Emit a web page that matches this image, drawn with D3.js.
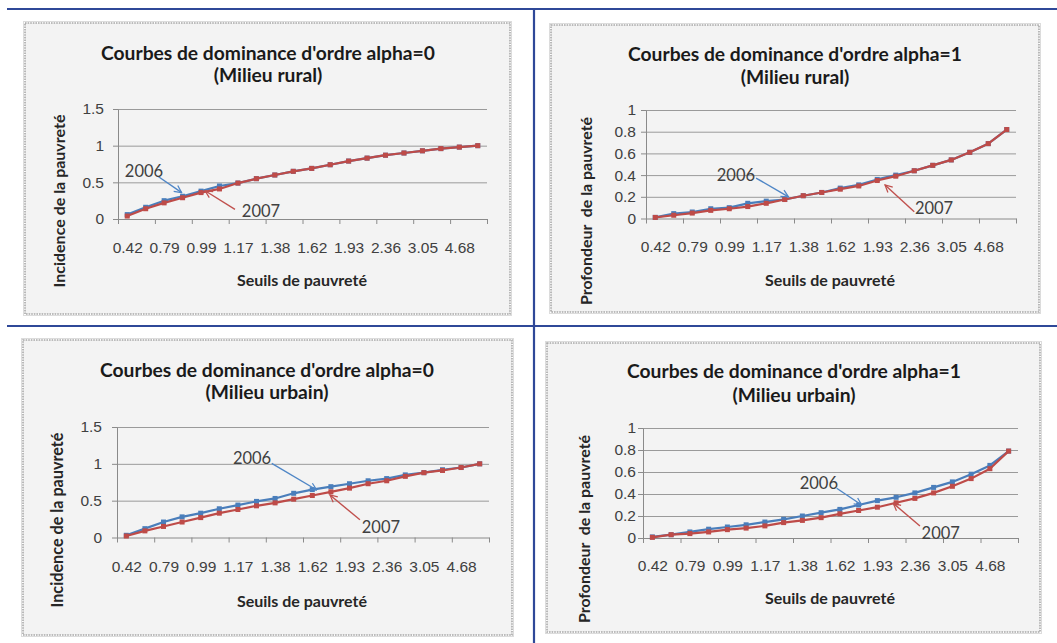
<!DOCTYPE html>
<html>
<head>
<meta charset="utf-8">
<script src="https://cdn.jsdelivr.net/npm/d3@7"></script>
<style>
  body { margin: 0; background: #ffffff; }
  svg { display: block; font-family: Lato, "Open Sans", sans-serif; }
</style>
</head>
<body>
<svg id="fig" width="1057" height="643"></svg>
<script>
// Seuils de pauvreté (20 thresholds, one label shown every two)
const seuils = [0.42, 0.62, 0.79, 0.90, 0.99, 1.08, 1.17, 1.27, 1.38, 1.50,
                1.62, 1.76, 1.93, 2.12, 2.36, 2.65, 3.05, 3.70, 4.68, 6.50];

// Alpha = 0 : incidence de la pauvreté, milieu rural
const ruralA0_2006 = [0.06, 0.16, 0.25, 0.31, 0.38, 0.45, 0.49, 0.55, 0.60, 0.65,
                      0.69, 0.74, 0.79, 0.83, 0.87, 0.90, 0.93, 0.96, 0.98, 1.00];
const ruralA0_2007 = [0.04, 0.14, 0.22, 0.29, 0.36, 0.41, 0.49, 0.55, 0.60, 0.65,
                      0.69, 0.74, 0.79, 0.83, 0.87, 0.90, 0.93, 0.96, 0.98, 1.00];

// Alpha = 1 : profondeur de la pauvreté, milieu rural
const ruralA1_2006 = [0.01, 0.045, 0.06, 0.09, 0.10, 0.14, 0.16, 0.175, 0.21, 0.24,
                      0.28, 0.31, 0.36, 0.40, 0.44, 0.49, 0.54, 0.61, 0.69, 0.82];
const ruralA1_2007 = [0.01, 0.03, 0.05, 0.075, 0.09, 0.11, 0.14, 0.175, 0.21, 0.24,
                      0.27, 0.30, 0.35, 0.39, 0.44, 0.49, 0.54, 0.61, 0.69, 0.82];

// Alpha = 0 : incidence de la pauvreté, milieu urbain
const urbainA0_2006 = [0.03, 0.12, 0.21, 0.28, 0.33, 0.39, 0.44, 0.49, 0.53, 0.60,
                       0.65, 0.69, 0.73, 0.77, 0.80, 0.85, 0.88, 0.92, 0.95, 1.00];
const urbainA0_2007 = [0.02, 0.09, 0.15, 0.21, 0.27, 0.33, 0.38, 0.43, 0.47, 0.52,
                       0.57, 0.62, 0.67, 0.73, 0.77, 0.83, 0.88, 0.91, 0.95, 1.00];

// Alpha = 1 : profondeur de la pauvreté, milieu urbain
const urbainA1_2006 = [0.01, 0.03, 0.055, 0.08, 0.10, 0.12, 0.145, 0.17, 0.20, 0.23,
                       0.26, 0.30, 0.34, 0.37, 0.41, 0.46, 0.51, 0.58, 0.66, 0.79];
const urbainA1_2007 = [0.006, 0.03, 0.04, 0.055, 0.076, 0.09, 0.11, 0.14, 0.16, 0.185,
                       0.22, 0.25, 0.28, 0.32, 0.36, 0.41, 0.47, 0.54, 0.63, 0.79];

// Value axis ticks
const yTicksA0 = [0, 0.5, 1, 1.5];
const yTicksA1 = [0, 0.2, 0.4, 0.6, 0.8, 1];

const years = ["2006", "2007"];

// ---------------------------------------------------------------------------
const COL = { "2006": "#4a7ebb", "2007": "#be4b48" };
const ARROW = { "2006": "#4f86c6", "2007": "#c0504d" };
const FRAME = "#2f4898";
const AXIS = "#8a8a8a";
const GRID = "#9a9a9a";
const TXT = "#404040";

// Panel layout; annotation anchors are given as [category position, value]
const panels = [
  {
    title: ["Courbes de dominance d'ordre alpha=0", "(Milieu rural)"],
    yTitle: "Incidence de la pauvreté",
    series: { "2006": ruralA0_2006, "2007": ruralA0_2007 }, yMax: 1.5, yTicks: yTicksA0,
    box: [25, 23, 510, 314], plot: [118, 487, 109, 219],
    titleX: 268, titleY: [60, 82], xLabY: 253, xTitlePos: [302, 286], yTitlePos: [65, 201], yTitleLen: 173, yLabRight: 104,
    notes: {
      "2006": { text: [1.41, 0.65], tail: [2.18, 0.58], tip: [3.45, 0.36] },
      "2007": { text: [7.75, 0.11], tail: [6.34, 0.13], tip: [4.72, 0.385] }
    }
  },
  {
    title: ["Courbes de dominance d'ordre alpha=1", "(Milieu rural)"],
    yTitle: "Profondeur  de la pauvreté",
    series: { "2006": ruralA1_2006, "2007": ruralA1_2007 }, yMax: 1, yTicks: yTicksA1,
    box: [551, 25, 1039, 312], plot: [646, 1016, 110, 218.5],
    titleX: 795, titleY: [61, 84], xLabY: 252, xTitlePos: [830, 286], yTitlePos: [592, 211], yTitleLen: 188, yLabRight: 636,
    notes: {
      "2006": { text: [4.86, 0.40], tail: [5.95, 0.373], tip: [7.7, 0.20] },
      "2007": { text: [15.57, 0.097], tail: [14.5, 0.063], tip: [12.92, 0.309] }
    }
  },
  {
    title: ["Courbes de dominance d'ordre alpha=0", "(Milieu urbain)"],
    yTitle: "Incidence de la pauvreté",
    series: { "2006": urbainA0_2006, "2007": urbainA0_2007 }, yMax: 1.5, yTicks: yTicksA0,
    box: [23, 340, 512, 635], plot: [117, 489, 427, 537.5],
    titleX: 267, titleY: [377, 399], xLabY: 572, xTitlePos: [302, 607], yTitlePos: [63, 520], yTitleLen: 175, yLabRight: 102,
    notes: {
      "2006": { text: [7.26, 1.08], tail: [8.32, 1.006], tip: [10.74, 0.645] },
      "2007": { text: [14.19, 0.14], tail: [13.06, 0.24], tip: [11.45, 0.577] }
    }
  },
  {
    title: ["Courbes de dominance d'ordre alpha=1", "(Milieu urbain)"],
    yTitle: "Profondeur  de la pauvreté",
    series: { "2006": urbainA1_2006, "2007": urbainA1_2007 }, yMax: 1, yTicks: yTicksA1,
    box: [547, 343, 1040, 632], plot: [643, 1018, 428, 538],
    titleX: 794, titleY: [378, 402], xLabY: 571, xTitlePos: [830, 604], yTitlePos: [590, 529], yTitleLen: 188, yLabRight: 636,
    notes: {
      "2006": { text: [9.38, 0.497], tail: [10.33, 0.452], tip: [11.66, 0.30] },
      "2007": { text: [15.88, 0.045], tail: [14.77, 0.109], tip: [13.35, 0.315] }
    }
  }
];

const svg = d3.select("#fig");

// Arrowheads (open) for the year annotations
const defs = svg.append("defs");
years.forEach(yr => {
  defs.append("marker")
    .attr("id", "arrow" + yr)
    .attr("viewBox", "0 0 10 10")
    .attr("refX", 9).attr("refY", 5)
    .attr("markerWidth", 9).attr("markerHeight", 9)
    .attr("markerUnits", "userSpaceOnUse")
    .attr("orient", "auto")
    .append("path")
    .attr("d", "M1,1 L9,5 L1,9")
    .attr("fill", "none")
    .attr("stroke", ARROW[yr])
    .attr("stroke-width", 1.4);
});

// Scale a text element's font size so it spans the given width
function fitWidth(sel, width) {
  const node = sel.node();
  const base = parseFloat(sel.attr("font-size"));
  const w = node.getComputedTextLength();
  if (w > 0) sel.attr("font-size", (base * width / w).toFixed(2));
  return sel;
}

const TICK_FS = 15.5;
const NOTE_FS = 16.5;

panels.forEach(p => {
  const g = svg.append("g");
  const [bx0, by0, bx1, by1] = p.box;
  const [pl, pr, pt, pb] = p.plot;

  // chart area with dotted frame
  g.append("rect")
    .attr("x", bx0 - 1.5).attr("y", by0 - 1.5)
    .attr("width", bx1 - bx0 + 3).attr("height", by1 - by0 + 3)
    .attr("fill", "none").attr("stroke", "#dcdcdc").attr("stroke-width", 1);
  g.append("rect")
    .attr("x", bx0).attr("y", by0)
    .attr("width", bx1 - bx0).attr("height", by1 - by0)
    .attr("fill", "#f3f3f3")
    .attr("stroke", "#a8a8a8").attr("stroke-width", 1.6)
    .attr("stroke-dasharray", "1.6,1");

  const x = d3.scaleLinear().domain([0, seuils.length]).range([pl, pr]);
  const y = d3.scaleLinear().domain([0, p.yMax]).range([pb, pt]);

  // horizontal gridlines
  g.append("g")
    .attr("transform", `translate(${pl},0)`)
    .call(d3.axisLeft(y).tickValues(p.yTicks.filter(v => v > 0)).tickSize(-(pr - pl)).tickFormat(""))
    .call(a => a.select(".domain").remove())
    .selectAll("line").attr("stroke", GRID).attr("stroke-width", 1);

  // value axis
  const yAx = g.append("g")
    .attr("transform", `translate(${pl},0)`)
    .call(d3.axisLeft(y).tickValues(p.yTicks).tickSize(5).tickSizeOuter(0)
      .tickPadding(pl - p.yLabRight - 5).tickFormat(d3.format("~g")));
  yAx.select(".domain").attr("stroke", AXIS);
  yAx.selectAll("line").attr("stroke", AXIS);
  yAx.selectAll("text").attr("fill", TXT).attr("font-size", TICK_FS).attr("font-family", null);

  // category axis: tick marks every two thresholds
  const xAx = g.append("g")
    .attr("transform", `translate(0,${pb})`)
    .call(d3.axisBottom(x).tickValues(d3.range(0, seuils.length + 1, 2)).tickSize(5).tickSizeOuter(0).tickFormat(""));
  xAx.select(".domain").attr("stroke", AXIS);
  xAx.selectAll("line").attr("stroke", AXIS);

  // category labels, one every two thresholds
  const labIdx = d3.range(0, seuils.length, 2);
  const xLab = g.append("g")
    .attr("transform", `translate(0,${pb})`)
    .call(d3.axisBottom(x).tickValues(labIdx.map(i => i + 0.5)).tickSize(0)
      .tickFormat(v => d3.format(".2f")(seuils[Math.round(v - 0.5)])));
  xLab.select(".domain").remove();
  xLab.selectAll("text")
    .attr("y", p.xLabY - pb).attr("dy", null)
    .attr("fill", TXT).attr("font-size", TICK_FS).attr("font-family", null);

  // series: lines with square markers
  years.forEach(yr => {
    const vals = p.series[yr];
    g.append("path")
      .datum(vals)
      .attr("fill", "none")
      .attr("stroke", COL[yr])
      .attr("stroke-width", 2.2)
      .attr("stroke-linejoin", "round")
      .attr("d", d3.line().x((d, i) => x(i + 0.5)).y(d => y(d)));
    g.append("g").selectAll("rect")
      .data(vals)
      .join("rect")
      .attr("x", (d, i) => x(i + 0.5) - 2.5)
      .attr("y", d => y(d) - 2.5)
      .attr("width", 5).attr("height", 5)
      .attr("fill", COL[yr]);
  });

  // year annotations with arrows
  years.forEach(yr => {
    const n = p.notes[yr];
    g.append("line")
      .attr("x1", x(n.tail[0])).attr("y1", y(n.tail[1]))
      .attr("x2", x(n.tip[0])).attr("y2", y(n.tip[1]))
      .attr("stroke", ARROW[yr]).attr("stroke-width", 1.4)
      .attr("marker-end", `url(#arrow${yr})`);
    g.append("text")
      .attr("x", x(n.text[0])).attr("y", y(n.text[1]))
      .attr("dy", "0.36em")
      .attr("text-anchor", "middle")
      .attr("font-size", NOTE_FS)
      .attr("fill", TXT)
      .text(yr);
  });

  // titles
  const t1 = g.append("text")
    .attr("x", p.titleX).attr("y", p.titleY[0])
    .attr("text-anchor", "middle").attr("font-weight", "bold")
    .attr("font-size", 18).attr("fill", "#1a1a1a")
    .text(p.title[0]);
  fitWidth(t1, 334);
  g.append("text")
    .attr("x", p.titleX).attr("y", p.titleY[1])
    .attr("text-anchor", "middle").attr("font-weight", "bold")
    .attr("font-size", t1.attr("font-size")).attr("fill", "#1a1a1a")
    .text(p.title[1]);

  const xt = g.append("text")
    .attr("x", p.xTitlePos[0]).attr("y", p.xTitlePos[1])
    .attr("text-anchor", "middle").attr("font-weight", "bold")
    .attr("font-size", 14).attr("fill", "#262626")
    .text("Seuils de pauvreté");
  fitWidth(xt, 130);

  const yt = g.append("text")
    .attr("transform", `translate(${p.yTitlePos[0]},${p.yTitlePos[1]}) rotate(-90)`)
    .attr("text-anchor", "middle").attr("font-weight", "bold")
    .attr("font-size", 14).attr("fill", "#262626")
    .style("white-space", "pre")
    .text(p.yTitle);
  fitWidth(yt, p.yTitleLen);
});

// blue separators between the four charts
const frame = svg.append("g").attr("stroke", FRAME).attr("stroke-width", 2.2);
frame.append("line").attr("x1", 7).attr("x2", 1057).attr("y1", 9).attr("y2", 9);
frame.append("line").attr("x1", 7).attr("x2", 1057).attr("y1", 326).attr("y2", 326);
frame.append("line").attr("x1", 534).attr("x2", 534).attr("y1", 9).attr("y2", 643);
</script>
</body>
</html>
